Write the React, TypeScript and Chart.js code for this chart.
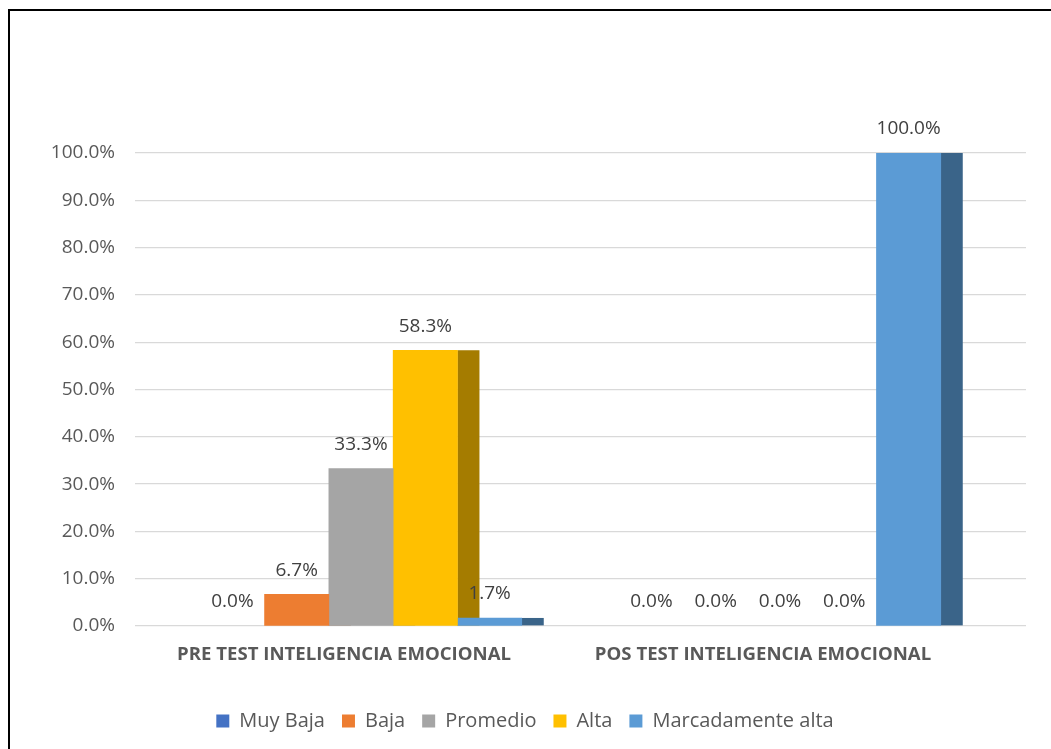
import React, { useEffect, useRef } from "react";
import { Chart, registerables } from "chart.js";

Chart.register(...registerables);

const categories = ["PRE TEST INTELIGENCIA EMOCIONAL", "POS TEST INTELIGENCIA EMOCIONAL"];
const seriesNames = ["Muy Baja", "Baja", "Promedio", "Alta", "Marcadamente alta"];
const muyBaja = [0, 0];
const baja = [6.7, 0];
const promedio = [33.3, 0];
const alta = [58.3, 0];
const marcadamenteAlta = [1.7, 100];
const yMin = 0;
const yMax = 100;
const yStep = 10;

const frontColors = ["#4472C4", "#ED7D31", "#A5A5A5", "#FFC000", "#5B9BD5"];
const sideColors = ["#2A4578", "#8E4B1D", "#636363", "#A57C00", "#3A6489"];
const FONT = "'Open Sans', 'DejaVu Sans', sans-serif";

const seriesValues = [muyBaja, baja, promedio, alta, marcadamenteAlta];

const sidePlugin = {
  id: "sideFaces",
  beforeDatasetsDraw(chart: any) {
    const ctx = chart.ctx;
    ctx.save();
    chart.data.datasets.forEach((ds: any, i: number) => {
      const meta = chart.getDatasetMeta(i);
      meta.data.forEach((el: any) => {
        const h = el.base - el.y;
        if (h > 0.5) {
          ctx.fillStyle = sideColors[i];
          ctx.fillRect(el.x + el.width / 2, el.y, 22, h);
        }
      });
    });
    ctx.restore();
  },
};

const labelPlugin = {
  id: "valueLabels",
  afterDatasetsDraw(chart: any) {
    const ctx = chart.ctx;
    ctx.save();
    ctx.font = `19px ${FONT}`;
    ctx.fillStyle = "#404040";
    ctx.textAlign = "center";
    ctx.textBaseline = "middle";
    chart.data.datasets.forEach((ds: any, i: number) => {
      const meta = chart.getDatasetMeta(i);
      meta.data.forEach((el: any, j: number) => {
        const v = ds.data[j].y;
        ctx.fillText(v.toFixed(1) + "%", el.x, el.y - 24);
      });
    });
    ctx.restore();
  },
};

const framePlugin = {
  id: "frame",
  afterDraw(chart: any) {
    const ctx = chart.ctx;
    ctx.save();
    ctx.fillStyle = "#000000";
    ctx.fillRect(8, 9, chart.width - 8, 2);
    ctx.fillRect(8, 9, 2, chart.height - 9);
    ctx.restore();
  },
};

export default function App() {
  const ref = useRef<HTMLCanvasElement | null>(null);

  useEffect(() => {
    if (!ref.current) return;
    const datasets = seriesNames.map((name, i) => ({
      label: name,
      data: seriesValues[i].map((v, j) => ({ x: j, y: v })),
      backgroundColor: frontColors[i],
      borderWidth: 0,
      barThickness: 64.3,
      inflateAmount: (c: any) => (c.raw && c.raw.y === 0 ? 0 : 0.33),
    }));
    const chart = new Chart(ref.current, {
      type: "bar",
      data: { datasets },
      plugins: [sidePlugin, labelPlugin, framePlugin],
      options: {
        animation: false,
        responsive: false,
        maintainAspectRatio: false,
        layout: { padding: { left: 24, right: 25, top: 153, bottom: 8 } },
        plugins: {
          tooltip: { enabled: false },
          legend: {
            display: true,
            position: "bottom",
            labels: {
              font: { family: FONT, size: 20 },
              color: "#595959",
              boxWidth: 13,
              boxHeight: 13,
              padding: 17,
            },
          },
        },
        scales: {
          x: {
            type: "linear",
            offset: false,
            bounds: "data",
            min: -0.5394,
            max: 1.5871,
            grid: { display: false, offset: false },
            border: { display: false },
            afterBuildTicks: (scale: any) => {
              scale.ticks = categories.map((_, i) => ({ value: i }));
            },
            afterFit: (scale: any) => {
              scale.height = 68;
            },
            ticks: {
              autoSkip: false,
              maxRotation: 0,
              padding: 10,
              labelOffset: -17,
              color: "#595959",
              font: { family: FONT, size: 18.6, weight: "bold" },
              callback: (v: any) => categories[v] ?? "",
            },
          },
          y: {
            min: yMin,
            max: yMax,
            afterFit: (scale: any) => {
              scale.width = 111;
            },
            grid: { color: "#D9D9D9", lineWidth: 1.3, drawTicks: false },
            border: { display: false },
            ticks: {
              stepSize: yStep,
              padding: 20,
              color: "#595959",
              font: { family: FONT, size: 19 },
              callback: (v: any) => Number(v).toFixed(1) + "%",
            },
          },
        },
      } as any,
    });
    return () => chart.destroy();
  }, []);

  return (
    <div style={{ position: "fixed", left: 0, top: 0, width: 1051, height: 749, background: "#fff" }}>
      <canvas ref={ref} width={1051} height={749} style={{ display: "block", width: 1051, height: 749 }} />
    </div>
  );
}
